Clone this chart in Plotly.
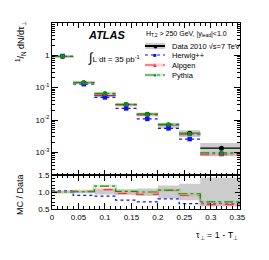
import plotly.graph_objects as go

# ---- data ----
bin_edges = [0.0, 0.04, 0.08, 0.12, 0.16, 0.20, 0.24, 0.28, 0.36]
data_vals = [0.92, 0.142, 0.057, 0.030, 0.0152, 0.0069, 0.0039, 0.00135]
data_syst = [0.03, 0.04, 0.07, 0.08, 0.10, 0.19, 0.24, 0.43]
herwig_vals = [0.957, 0.128, 0.050, 0.0228, 0.0108, 0.0055, 0.00257, 0.00089]
alpgen_vals = [0.92, 0.146, 0.061, 0.0288, 0.0141, 0.0072, 0.0035, 0.00085]
pythia_vals = [0.92, 0.143, 0.067, 0.0306, 0.0152, 0.0073, 0.0037, 0.00096]
x_ticks = [0, 0.05, 0.1, 0.15, 0.2, 0.25, 0.3, 0.35]
x_ticklabels = ["0", "0.05", "0.1", "0.15", "0.2", "0.25", "0.3", "0.35"]
y_ticks = [1e-3, 1e-2, 1e-1, 1]
y_ticklabels = ["10<sup>-3</sup>", "10<sup>-2</sup>", "10<sup>-1</sup>", "1"]
r_ticks = [0.5, 1.0, 1.5]
r_ticklabels = ["0.5", "1.0", "1.5"]
legend_header = "H<sub>T,2</sub> > 250 GeV, |y<sub>lead</sub>|<1.0"
legend_labels = ["Data 2010 √s=7 TeV", "Herwig++", "Alpgen", "Pythia"]

XMAX = 0.355
W, H = 269, 260
ML, MR, MT, MB = 52, 29, 23, 51
PW, PH = W - ML - MR, H - MT - MB

lo = bin_edges[:-1]
hi = [min(h, XMAX) for h in bin_edges[1:]]
ctr = [(a + b) / 2 for a, b in zip(bin_edges[:-1], bin_edges[1:])]
ctr[-1] = 0.32

FONT = "Liberation Sans, Arial, sans-serif"
fig = go.Figure()


def px_x(p):
    return (p - ML) / PW


def px_y(p):
    return 1 - (p - MT) / PH


def segs(vals):
    xs, ys = [], []
    for a, b, v in zip(lo, hi, vals):
        xs += [a, b, None]
        ys += [v, v, None]
    return xs, ys


def boxes(vals, rel):
    xs, ys = [], []
    for a, b, v, e in zip(lo, hi, vals, rel):
        y0, y1 = v * (1 - e), v * (1 + e)
        xs += [a, b, b, a, a, None]
        ys += [y0, y0, y1, y1, y0, None]
    return xs, ys


GREY = "#cccccc"
LW = 1.2
BW = 3
series = [
    ("Herwig++", herwig_vals, "#1010ff", "dot", "square", None),
    ("Alpgen", alpgen_vals, "#ff3030", "dash", "triangle-up", "rgba(255,150,150,0.45)"),
    ("Pythia", pythia_vals, "#109010", "dashdot", "circle", "rgba(150,210,150,0.45)"),
]

# main panel: data systematic boxes
bx, by = boxes(data_vals, data_syst)
fig.add_trace(go.Scatter(x=bx, y=by, mode="lines", fill="toself", fillcolor=GREY,
                         line=dict(width=0), showlegend=False, hoverinfo="skip",
                         xaxis="x", yaxis="y"))
dx, dy = segs(data_vals)
fig.add_trace(go.Scatter(x=dx, y=dy, mode="lines", line=dict(color="black", width=1.2),
                         showlegend=False, xaxis="x", yaxis="y"))
for name, vals, col, dash, sym, band in series:
    sx, sy = segs(vals)
    if band:
        fig.add_trace(go.Scatter(x=sx, y=sy, mode="lines", line=dict(color=band, width=BW),
                                 showlegend=False, hoverinfo="skip", xaxis="x", yaxis="y"))
    fig.add_trace(go.Scatter(x=sx, y=sy, mode="lines",
                             line=dict(color=col, width=LW, dash=dash),
                             showlegend=False, xaxis="x", yaxis="y"))

fig.add_trace(go.Scatter(x=ctr, y=data_vals, mode="markers", showlegend=False,
                         marker=dict(color="black", size=5, symbol="circle"),
                         xaxis="x", yaxis="y"))
for name, vals, col, dash, sym, band in series:
    fig.add_trace(go.Scatter(x=ctr, y=vals, mode="markers", showlegend=False,
                             marker=dict(color=col, size=4.5, symbol=sym),
                             xaxis="x", yaxis="y"))

# ratio panel
edges_x = lo + [XMAX]
rx, ry = [], []
for a, b, e in zip(lo, hi, data_syst):
    rx += [a, b, b, a, a, None]
    ry += [1 - e, 1 - e, 1 + e, 1 + e, 1 - e, None]
fig.add_trace(go.Scatter(x=rx, y=ry, mode="lines", fill="toself", fillcolor=GREY,
                         line=dict(width=0), showlegend=False, hoverinfo="skip",
                         xaxis="x2", yaxis="y2"))
for name, vals, col, dash, sym, band in series:
    ratio = [m / d for m, d in zip(vals, data_vals)]
    ys = ratio + [ratio[-1]]
    if band:
        fig.add_trace(go.Scatter(x=edges_x, y=ys, mode="lines", line_shape="hv",
                                 line=dict(color=band, width=BW), showlegend=False,
                                 hoverinfo="skip", xaxis="x2", yaxis="y2"))
    fig.add_trace(go.Scatter(x=edges_x, y=ys, mode="lines", line_shape="hv",
                             line=dict(color=col, width=LW, dash=dash), showlegend=False,
                             xaxis="x2", yaxis="y2"))

RATIO_TOP = 34 / PH
axis_common = dict(showline=True, linecolor="black", linewidth=1, mirror="ticks",
                   ticks="inside", tickcolor="black", showgrid=False, zeroline=False)

fig.update_layout(
    width=W, height=H,
    margin=dict(l=ML, r=MR, t=MT, b=MB),
    paper_bgcolor="white", plot_bgcolor="white",
    font=dict(family=FONT, size=8, color="black"),
    showlegend=False,
    xaxis=dict(domain=[0, 1], range=[0, XMAX], anchor="y", matches="x2",
               showticklabels=False, tickvals=x_ticks, ticklen=5,
               minor=dict(dtick=0.01, ticks="inside", ticklen=2.5, tickcolor="black"),
               **axis_common),
    yaxis=dict(domain=[RATIO_TOP, 1], type="log", range=[-3.7, 1], anchor="x",
               tickvals=y_ticks, ticktext=y_ticklabels, ticklen=6,
               tickfont=dict(size=8),
               minor=dict(ticks="inside", ticklen=3, tickcolor="black",
                          tickvals=[m * 10 ** k for k in range(-4, 1) for m in range(2, 10)]),
               **axis_common),
    xaxis2=dict(domain=[0, 1], range=[0, XMAX], anchor="y2",
                tickvals=x_ticks, ticktext=x_ticklabels, ticklen=6,
                tickfont=dict(size=8),
                minor=dict(dtick=0.01, ticks="inside", ticklen=3, tickcolor="black"),
                **axis_common),
    yaxis2=dict(domain=[0, RATIO_TOP], range=[0.5, 1.5], anchor="x2",
                tickvals=r_ticks, ticktext=r_ticklabels, ticklen=5,
                tickfont=dict(size=8),
                minor=dict(dtick=0.1, ticks="inside", ticklen=2.5, tickcolor="black"),
                **axis_common),
)

# ---- manual legend ----
LX0, LX1, LT = 145, 165, 170
rows = [46, 55, 65, 75]
fig.add_annotation(text=legend_header, xref="paper", yref="paper",
                   x=px_x(144), y=px_y(34), xanchor="left", yanchor="middle",
                   showarrow=False, font=dict(size=7, family=FONT))
fig.add_shape(type="rect", xref="paper", yref="paper",
              x0=px_x(LX0), x1=px_x(LX1), y0=px_y(rows[0] - 3), y1=px_y(rows[0] + 3),
              fillcolor=GREY, line=dict(width=0), layer="above")
fig.add_shape(type="line", xref="paper", yref="paper",
              x0=px_x(LX0), x1=px_x(LX1), y0=px_y(rows[0]), y1=px_y(rows[0]),
              line=dict(color="black", width=2), layer="above")
fig.add_annotation(text="●", xref="paper", yref="paper", x=px_x((LX0 + LX1) / 2),
                   y=px_y(rows[0]), xanchor="center", yanchor="middle", showarrow=False,
                   font=dict(size=8, color="black"))
glyphs = {"square": "■", "triangle-up": "▲", "circle": "●"}
for (name, vals, col, dash, sym, band), r in zip(series, rows[1:]):
    if band:
        fig.add_shape(type="line", xref="paper", yref="paper",
                      x0=px_x(LX0), x1=px_x(LX1), y0=px_y(r), y1=px_y(r),
                      line=dict(color=band, width=BW), layer="above")
    fig.add_shape(type="line", xref="paper", yref="paper",
                  x0=px_x(LX0), x1=px_x(LX1), y0=px_y(r), y1=px_y(r),
                  line=dict(color=col, width=LW, dash=dash), layer="above")
    fig.add_annotation(text=glyphs[sym], xref="paper", yref="paper", x=px_x((LX0 + LX1) / 2),
                       y=px_y(r), xanchor="center", yanchor="middle", showarrow=False,
                       font=dict(size=6, color=col))
for lab, r in zip(legend_labels, rows):
    fig.add_annotation(text=lab, xref="paper", yref="paper", x=px_x(LT), y=px_y(r),
                       xanchor="left", yanchor="middle", showarrow=False,
                       font=dict(size=7.5, family=FONT))

fig.add_annotation(text="<b><i>ATLAS</i></b>", xref="paper", yref="paper",
                   x=px_x(86), y=px_y(35), xanchor="left", yanchor="middle",
                   showarrow=False, font=dict(size=11, family=FONT))
fig.add_annotation(text="<span style='font-size:13px'>∫</span>L dt = 35 pb<sup>-1</sup>",
                   xref="paper", yref="paper",
                   x=px_x(86), y=px_y(57), xanchor="left", yanchor="middle",
                   showarrow=False, font=dict(size=8, family=FONT))
fig.add_annotation(text="<sup>1</sup>/<sub>N</sub> dN/dτ<sub>⊥</sub>", xref="paper", yref="paper",
                   x=px_x(20), y=px_y(42), textangle=-90,
                   xanchor="center", yanchor="middle", showarrow=False,
                   font=dict(size=9, family=FONT))
fig.add_annotation(text="MC / Data", xref="paper", yref="paper",
                   x=px_x(20), y=px_y(195), textangle=-90,
                   xanchor="center", yanchor="middle", showarrow=False,
                   font=dict(size=9, family=FONT))
fig.add_annotation(text="τ<sub>⊥</sub> = 1 - T<sub>⊥</sub>", xref="paper", yref="paper",
                   x=px_x(240), y=px_y(235), xanchor="right", yanchor="middle",
                   showarrow=False, font=dict(size=9, family=FONT))

fig.write_html("out.html", config={"displayModeBar": False},
               post_script="document.body.style.margin='0px';")
